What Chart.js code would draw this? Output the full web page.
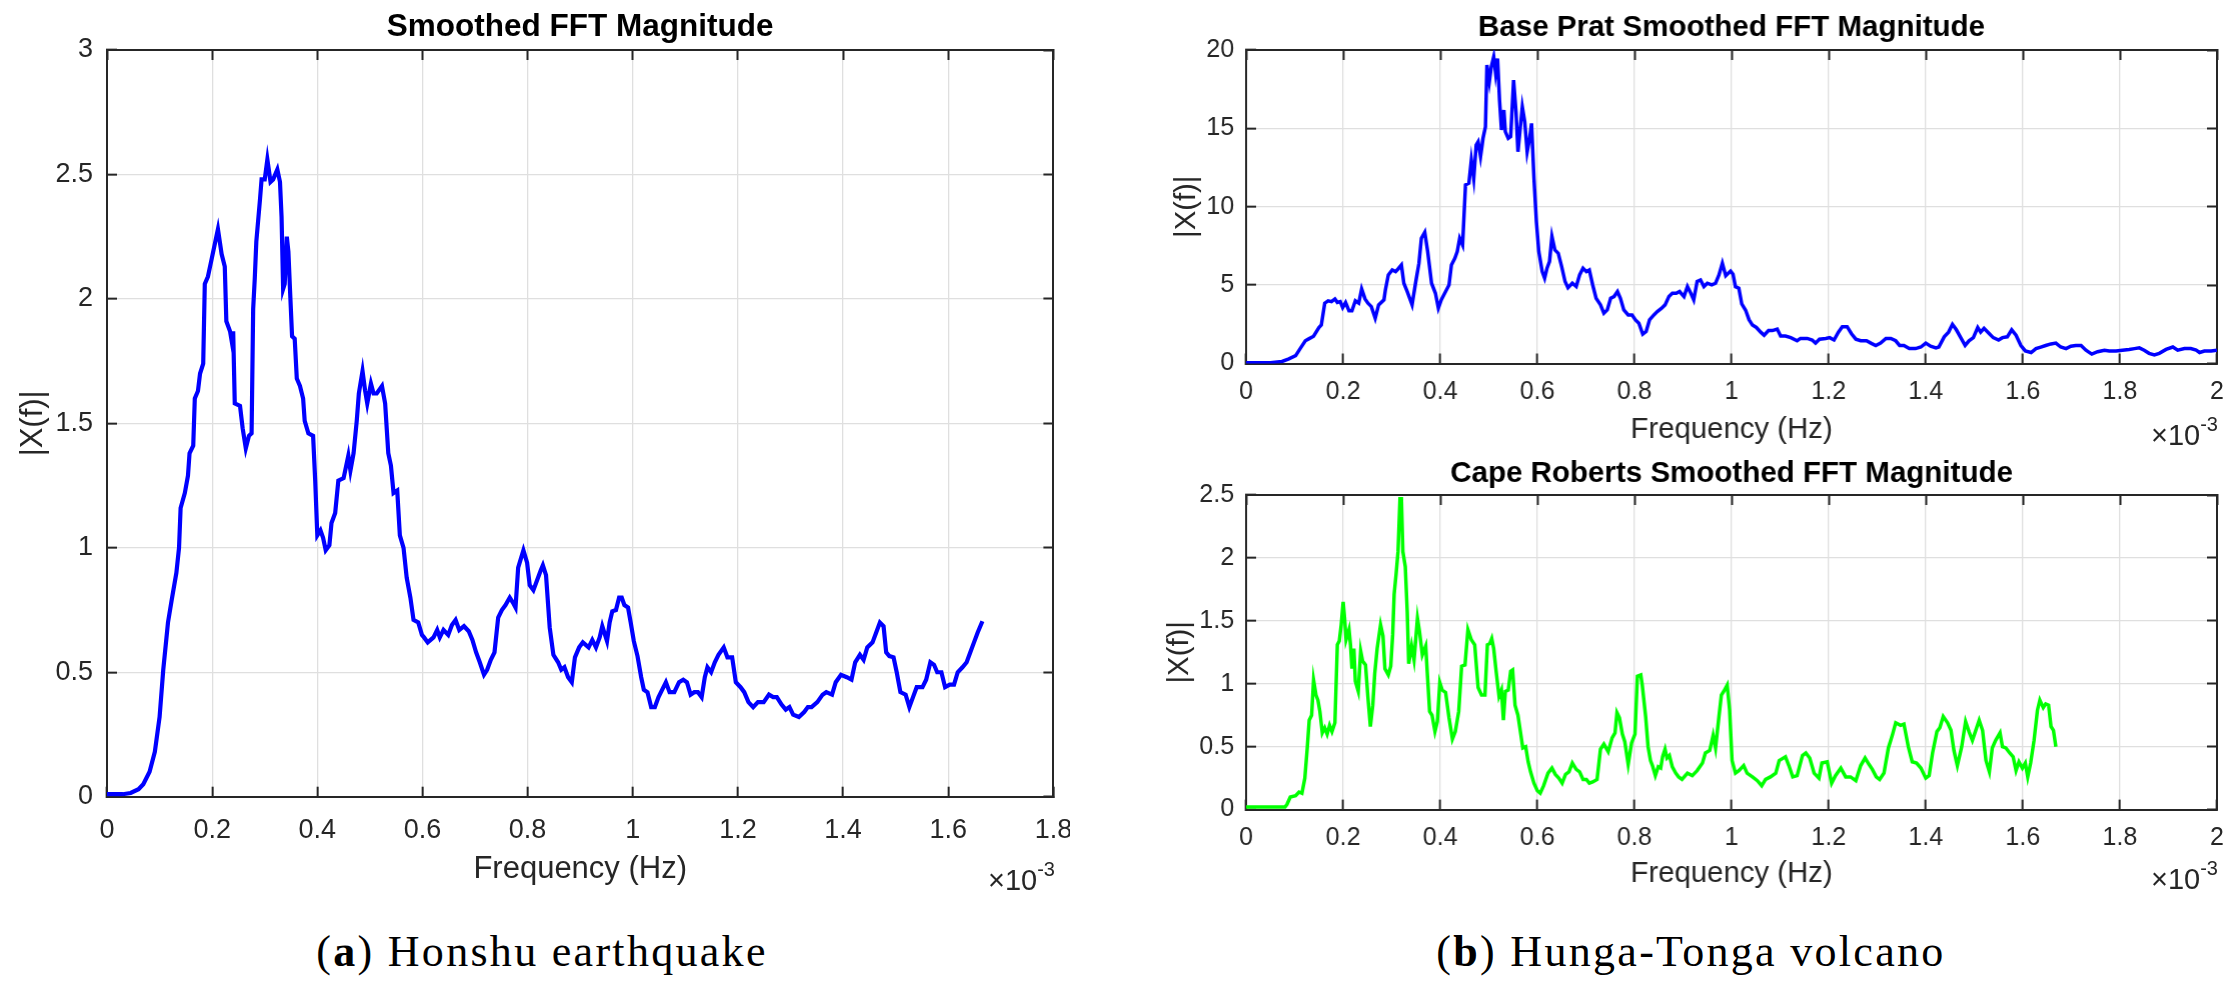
<!DOCTYPE html>
<html>
<head>
<meta charset="utf-8">
<title>Smoothed FFT Magnitude</title>
<script src="https://cdn.jsdelivr.net/npm/chart.js@4.4.1/dist/chart.umd.min.js"></script>
<style>
  html, body { margin: 0; padding: 0; background: #fff; }
  body { width: 2238px; height: 991px; position: relative; overflow: hidden; }
  canvas { position: absolute; }
  .exp {
    position: absolute; width: 120px; text-align: right; white-space: nowrap;
    font-family: "Liberation Sans", Arial, sans-serif; font-size: 29px; line-height: 29px; color: #262626;
  }
  .exp span { font-size: 20px; position: relative; top: -14px; }
  .cap {
    position: absolute; width: 700px; text-align: center; white-space: nowrap;
    font-family: "Liberation Serif", "Times New Roman", serif; font-size: 44px; line-height: 44px;
    letter-spacing: 2.3px; color: #000;
  }
</style>
</head>
<body>
<canvas id="honshuChart"></canvas>
<canvas id="pratChart"></canvas>
<canvas id="robertsChart"></canvas>

<div class="exp" style="left:935px; top:866px;">&times;10<span>-3</span></div>
<div class="exp" style="left:2098px; top:421px;">&times;10<span>-3</span></div>
<div class="exp" style="left:2098px; top:865px;">&times;10<span>-3</span></div>

<div class="cap" style="left:192px; top:930px;">(<b>a</b>) Honshu earthquake</div>
<div class="cap" style="left:1341px; top:930px;">(<b>b</b>) Hunga-Tonga volcano</div>

<script>
// ---------------------------------------------------------------
// Data (frequency in units of 1e-3 Hz, axis shows x10^-3)
// ---------------------------------------------------------------
const honshuFreq = [
  0, 0.03, 0.045, 0.06, 0.069, 0.081, 0.091, 0.1, 0.107, 0.116, 0.123, 0.132, 0.137, 0.14, 0.148,
  0.154, 0.157, 0.164, 0.167, 0.173, 0.177, 0.183, 0.186, 0.192, 0.199, 0.204, 0.211, 0.218, 0.224,
  0.227, 0.234, 0.238, 0.24, 0.243, 0.253, 0.258, 0.264, 0.27, 0.275, 0.278, 0.281, 0.284, 0.291,
  0.294, 0.3, 0.305, 0.311, 0.316, 0.324, 0.329, 0.332, 0.335, 0.338, 0.342, 0.345, 0.348, 0.352,
  0.357, 0.361, 0.367, 0.373, 0.376, 0.383, 0.392, 0.396, 0.4, 0.406, 0.411, 0.416, 0.423, 0.427,
  0.434, 0.44, 0.45, 0.459, 0.463, 0.469, 0.475, 0.479, 0.486, 0.491, 0.495, 0.502, 0.507, 0.513,
  0.523, 0.529, 0.535, 0.54, 0.545, 0.552, 0.557, 0.564, 0.57, 0.577, 0.583, 0.592, 0.599, 0.603,
  0.61, 0.621, 0.628, 0.633, 0.64, 0.649, 0.656, 0.663, 0.67, 0.679, 0.688, 0.695, 0.702, 0.709,
  0.717, 0.723, 0.73, 0.737, 0.744, 0.751, 0.758, 0.766, 0.772, 0.777, 0.782, 0.792, 0.799, 0.804,
  0.811, 0.818, 0.825, 0.829, 0.835, 0.842, 0.849, 0.858, 0.864, 0.87, 0.877, 0.884, 0.89, 0.898,
  0.905, 0.916, 0.923, 0.93, 0.937, 0.942, 0.951, 0.956, 0.961, 0.968, 0.974, 0.979, 0.984, 0.991,
  0.996, 1.002, 1.009, 1.016, 1.021, 1.028, 1.035, 1.042, 1.049, 1.056, 1.063, 1.07, 1.079, 1.088,
  1.096, 1.103, 1.11, 1.117, 1.124, 1.131, 1.137, 1.142, 1.149, 1.156, 1.163, 1.173, 1.18, 1.189,
  1.196, 1.205, 1.212, 1.22, 1.229, 1.238, 1.249, 1.259, 1.267, 1.274, 1.283, 1.291, 1.298, 1.305,
  1.316, 1.326, 1.333, 1.34, 1.351, 1.361, 1.368, 1.379, 1.386, 1.396, 1.407, 1.416, 1.423, 1.432,
  1.439, 1.446, 1.456, 1.463, 1.47, 1.477, 1.482, 1.488, 1.496, 1.502, 1.509, 1.519, 1.526, 1.533,
  1.54, 1.551, 1.558, 1.566, 1.573, 1.579, 1.587, 1.594, 1.603, 1.611, 1.618, 1.627, 1.635, 1.642,
  1.649, 1.656, 1.665
];
const honshuMag = [
  0.01, 0.01, 0.015, 0.03, 0.05, 0.1, 0.18, 0.32, 0.51, 0.7, 0.79, 0.9, 1.0, 1.16, 1.22,
  1.29, 1.38, 1.41, 1.6, 1.63, 1.7, 1.74, 2.06, 2.09, 2.16, 2.21, 2.28, 2.18, 2.13,
  1.91, 1.87, 1.82, 1.87, 1.58, 1.57, 1.48, 1.4, 1.45, 1.46, 1.96, 2.08, 2.23, 2.4,
  2.48, 2.48, 2.56, 2.47, 2.48, 2.52, 2.47, 2.33, 2.04, 2.06, 2.25, 2.19, 2.04, 1.85,
  1.84, 1.68, 1.65, 1.6, 1.51, 1.46, 1.45, 1.27, 1.05, 1.07, 1.04, 0.99, 1.01, 1.1,
  1.14, 1.27, 1.28, 1.37, 1.31, 1.38, 1.51, 1.62, 1.71, 1.63, 1.58, 1.66, 1.62, 1.62,
  1.65, 1.58, 1.38, 1.33, 1.22, 1.23, 1.05, 1.0, 0.88, 0.8, 0.71, 0.7, 0.65, 0.64,
  0.62, 0.64, 0.67, 0.64, 0.67, 0.65, 0.69, 0.71, 0.67, 0.685, 0.665, 0.63, 0.58, 0.54,
  0.49, 0.51, 0.55, 0.58, 0.72, 0.75, 0.77, 0.8, 0.78, 0.76, 0.92, 0.99, 0.94, 0.85,
  0.83, 0.87, 0.91, 0.93, 0.89, 0.68, 0.57, 0.54, 0.51, 0.52, 0.48, 0.46, 0.56, 0.6,
  0.62, 0.6, 0.63, 0.6, 0.64, 0.685, 0.625, 0.7, 0.745, 0.75, 0.8, 0.8, 0.77, 0.76,
  0.7, 0.625, 0.565, 0.48, 0.43, 0.42, 0.36, 0.36, 0.4, 0.43, 0.46, 0.42, 0.42, 0.46,
  0.47, 0.46, 0.41, 0.42, 0.42, 0.4, 0.48, 0.52, 0.5, 0.54, 0.57, 0.6, 0.56, 0.56,
  0.46, 0.44, 0.42, 0.38, 0.36, 0.38, 0.38, 0.41, 0.4, 0.4, 0.37, 0.35, 0.36, 0.33,
  0.32, 0.34, 0.36, 0.36, 0.38, 0.41, 0.42, 0.41, 0.46, 0.49, 0.48, 0.47, 0.54, 0.57,
  0.55, 0.6, 0.62, 0.66, 0.7, 0.685, 0.58, 0.565, 0.56, 0.5, 0.42, 0.41, 0.36, 0.4,
  0.44, 0.44, 0.47, 0.54, 0.53, 0.5, 0.5, 0.44, 0.45, 0.45, 0.5, 0.52, 0.54, 0.58,
  0.62, 0.66, 0.705
];

const pratFreq = [
  0, 0.05, 0.074, 0.088, 0.102, 0.112, 0.122, 0.129, 0.139, 0.15, 0.155, 0.162, 0.169, 0.176,
  0.183, 0.188, 0.194, 0.199, 0.205, 0.212, 0.218, 0.225, 0.232, 0.238, 0.245, 0.251, 0.258,
  0.266, 0.273, 0.284, 0.287, 0.293, 0.301, 0.308, 0.313, 0.32, 0.325, 0.332, 0.342, 0.349,
  0.356, 0.361, 0.368, 0.374, 0.382, 0.39, 0.396, 0.402, 0.411, 0.418, 0.423, 0.43, 0.435,
  0.44, 0.446, 0.452, 0.459, 0.464, 0.469, 0.474, 0.478, 0.483, 0.488, 0.493, 0.496, 0.501,
  0.505, 0.51, 0.514, 0.518, 0.522, 0.526, 0.531, 0.534, 0.54, 0.545, 0.551, 0.556, 0.56,
  0.569, 0.574, 0.579, 0.584, 0.588, 0.593, 0.598, 0.603, 0.61, 0.615, 0.62, 0.625, 0.63,
  0.636, 0.643, 0.65, 0.657, 0.663, 0.672, 0.68, 0.687, 0.694, 0.701, 0.707, 0.714, 0.721,
  0.73, 0.737, 0.744, 0.751, 0.758, 0.765, 0.771, 0.778, 0.787, 0.795, 0.802, 0.809, 0.817,
  0.824, 0.831, 0.84, 0.847, 0.856, 0.863, 0.871, 0.878, 0.886, 0.893, 0.902, 0.909, 0.916,
  0.922, 0.929, 0.936, 0.943, 0.95, 0.959, 0.967, 0.974, 0.981, 0.988, 0.998, 1.003, 1.008,
  1.015, 1.021, 1.029, 1.036, 1.043, 1.051, 1.06, 1.067, 1.076, 1.084, 1.094, 1.101, 1.111,
  1.122, 1.135, 1.142, 1.156, 1.166, 1.173, 1.181, 1.194, 1.202, 1.211, 1.22, 1.228, 1.238,
  1.247, 1.256, 1.266, 1.278, 1.287, 1.297, 1.307, 1.318, 1.328, 1.338, 1.346, 1.355, 1.366,
  1.379, 1.39, 1.4, 1.41, 1.421, 1.427, 1.438, 1.447, 1.455, 1.463, 1.472, 1.481, 1.489,
  1.498, 1.507, 1.513, 1.52, 1.531, 1.539, 1.55, 1.558, 1.568, 1.577, 1.586, 1.596, 1.605,
  1.617, 1.627, 1.637, 1.647, 1.658, 1.668, 1.678, 1.689, 1.699, 1.709, 1.72, 1.73, 1.742,
  1.754, 1.768, 1.778, 1.792, 1.805, 1.819, 1.83, 1.84, 1.85, 1.86, 1.871, 1.881, 1.895,
  1.909, 1.919, 1.933, 1.946, 1.957, 1.964, 1.974, 1.988, 2.0
];
const pratMag = [
  0.05, 0.05, 0.13, 0.3, 0.5, 0.98, 1.45, 1.57, 1.74, 2.29, 2.46, 3.85, 4.0, 3.95,
  4.12, 3.9, 3.95, 3.57, 3.89, 3.36, 3.36, 4.0, 3.85, 4.76, 4.12, 3.85, 3.63,
  2.89, 3.74, 4.06, 4.7, 5.65, 5.97, 5.86, 6.03, 6.29, 5.12, 4.59, 3.74, 5.12,
  6.4, 7.99, 8.37, 7.14, 5.12, 4.48, 3.53, 4.06, 4.59, 5.01, 6.29, 6.71, 7.14,
  7.99, 7.56, 11.39, 11.5, 12.98, 11.8, 13.94, 14.15, 13.2, 14.36, 15.1, 19.04, 17.98,
  18.93, 19.57, 18.5, 19.46, 16.81, 14.9, 16.17, 14.79, 14.36, 14.47, 18.08, 16.06, 13.51,
  16.38, 15.43, 13.51, 14.36, 15.32, 11.81, 9.05, 7.14, 5.86, 5.44, 6.08, 6.5, 8.1,
  7.25, 7.03, 6.18, 5.23, 4.84, 5.12, 4.91, 5.65, 6.08, 5.86, 5.97, 5.01, 4.16,
  3.74, 3.21, 3.42, 4.16, 4.27, 4.59, 4.16, 3.42, 3.1, 3.1, 2.78, 2.57, 1.87,
  2.04, 2.78, 3.1, 3.31, 3.53, 3.74, 4.27, 4.48, 4.48, 4.59, 4.27, 4.91, 4.48,
  4.06, 5.23, 5.33, 4.91, 5.12, 5.01, 5.12, 5.65, 6.4, 5.6, 5.9, 5.7, 4.9,
  4.8, 3.8, 3.4, 2.8, 2.45, 2.3, 2.0, 1.8, 2.1, 2.1, 2.2, 1.75, 1.75,
  1.65, 1.45, 1.6, 1.6, 1.5, 1.3, 1.55, 1.6, 1.65, 1.5, 2.0, 2.35, 2.35,
  1.9, 1.55, 1.45, 1.45, 1.3, 1.15, 1.3, 1.6, 1.6, 1.45, 1.15, 1.15, 0.95,
  0.95, 1.05, 1.3, 1.1, 1.0, 1.05, 1.7, 2.0, 2.5, 2.15, 1.65, 1.15, 1.45,
  1.65, 2.3, 2.0, 2.25, 1.9, 1.65, 1.5, 1.65, 1.7, 2.15, 1.8, 1.15, 0.8,
  0.7, 0.95, 1.05, 1.15, 1.25, 1.3, 1.05, 0.95, 1.1, 1.15, 1.15, 0.85, 0.6,
  0.75, 0.85, 0.8, 0.8, 0.85, 0.9, 0.95, 1.0, 0.85, 0.65, 0.55, 0.65, 0.9,
  1.05, 0.85, 0.95, 0.95, 0.85, 0.7, 0.8, 0.8, 0.85
];

const robertsFreq = [
  0, 0.08, 0.084, 0.091, 0.102, 0.109, 0.115, 0.121, 0.126, 0.13, 0.135, 0.139, 0.144, 0.148,
  0.152, 0.157, 0.162, 0.167, 0.172, 0.177, 0.183, 0.188, 0.192, 0.196, 0.2, 0.203, 0.206,
  0.212, 0.215, 0.218, 0.222, 0.225, 0.231, 0.236, 0.24, 0.246, 0.251, 0.256, 0.261, 0.265,
  0.27, 0.277, 0.282, 0.286, 0.293, 0.298, 0.302, 0.305, 0.309, 0.313, 0.317, 0.32, 0.323,
  0.328, 0.332, 0.335, 0.341, 0.346, 0.353, 0.357, 0.363, 0.37, 0.373, 0.378, 0.383, 0.389,
  0.394, 0.399, 0.404, 0.411, 0.418, 0.425, 0.431, 0.438, 0.444, 0.451, 0.457, 0.464, 0.471,
  0.478, 0.485, 0.492, 0.497, 0.502, 0.506, 0.51, 0.515, 0.521, 0.526, 0.53, 0.534, 0.54,
  0.545, 0.549, 0.554, 0.56, 0.565, 0.57, 0.576, 0.581, 0.586, 0.593, 0.6, 0.606, 0.613,
  0.622, 0.63, 0.637, 0.644, 0.651, 0.658, 0.665, 0.672, 0.68, 0.687, 0.694, 0.701, 0.707,
  0.714, 0.723, 0.73, 0.737, 0.746, 0.754, 0.76, 0.764, 0.769, 0.775, 0.78, 0.787, 0.794,
  0.801, 0.806, 0.813, 0.816, 0.823, 0.828, 0.833, 0.837, 0.843, 0.849, 0.854, 0.858, 0.863,
  0.867, 0.872, 0.878, 0.885, 0.891, 0.898, 0.909, 0.919, 0.929, 0.94, 0.946, 0.955, 0.962,
  0.967, 0.974, 0.979, 0.984, 0.991, 0.996, 1.001, 1.008, 1.015, 1.025, 1.032, 1.043, 1.053,
  1.062, 1.07, 1.08, 1.091, 1.098, 1.111, 1.118, 1.126, 1.135, 1.146, 1.153, 1.161, 1.17,
  1.18, 1.186, 1.197, 1.206, 1.214, 1.225, 1.235, 1.245, 1.256, 1.266, 1.275, 1.283, 1.29,
  1.298, 1.305, 1.314, 1.323, 1.331, 1.338, 1.348, 1.355, 1.364, 1.372, 1.381, 1.39, 1.4,
  1.407, 1.414, 1.423, 1.429, 1.436, 1.445, 1.452, 1.458, 1.465, 1.474, 1.482, 1.489, 1.496,
  1.503, 1.51, 1.517, 1.524, 1.531, 1.537, 1.544, 1.553, 1.558, 1.565, 1.573, 1.58, 1.586,
  1.592, 1.599, 1.605, 1.61, 1.616, 1.623, 1.63, 1.635, 1.642, 1.647, 1.653, 1.658, 1.663,
  1.668
];
const robertsMag = [
  0.02, 0.02, 0.04, 0.1, 0.11, 0.14, 0.13, 0.25, 0.49, 0.71, 0.75, 1.03, 0.91, 0.87,
  0.78, 0.61, 0.65, 0.6, 0.67, 0.62, 0.69, 1.31, 1.34, 1.47, 1.65, 1.52, 1.35,
  1.43, 1.31, 1.12, 1.28, 1.02, 0.94, 1.26, 1.18, 1.15, 0.89, 0.66, 0.83, 1.08,
  1.28, 1.47, 1.38, 1.12, 1.07, 1.14, 1.39, 1.71, 1.87, 2.05, 2.47, 2.47, 2.05,
  1.93, 1.57, 1.16, 1.3, 1.19, 1.52, 1.42, 1.23, 1.3, 1.1, 0.78, 0.75, 0.62,
  0.7, 1.01, 0.95, 0.93, 0.73, 0.56, 0.62, 0.78, 1.14, 1.15, 1.43, 1.35, 1.31,
  0.97, 0.91, 0.91, 1.31, 1.32, 1.36, 1.28, 1.1, 0.9, 0.95, 0.71, 0.94, 0.95,
  1.1, 1.11, 0.83, 0.75, 0.62, 0.49, 0.5, 0.38, 0.3, 0.21, 0.15, 0.13, 0.19,
  0.29, 0.33, 0.28, 0.25, 0.21, 0.28, 0.3, 0.37, 0.32, 0.3, 0.24, 0.24, 0.21,
  0.22, 0.24, 0.48, 0.52, 0.46, 0.57, 0.61, 0.77, 0.73, 0.6, 0.54, 0.36, 0.53,
  0.6, 1.06, 1.07, 0.99, 0.74, 0.5, 0.39, 0.35, 0.27, 0.34, 0.33, 0.42, 0.48,
  0.41, 0.43, 0.34, 0.29, 0.26, 0.24, 0.29, 0.27, 0.31, 0.37, 0.45, 0.47, 0.59,
  0.49, 0.74, 0.91, 0.94, 0.99, 0.79, 0.39, 0.29, 0.31, 0.35, 0.29, 0.26, 0.23,
  0.19, 0.24, 0.26, 0.29, 0.39, 0.42, 0.35, 0.26, 0.27, 0.43, 0.45, 0.41, 0.29,
  0.25, 0.37, 0.38, 0.21, 0.27, 0.33, 0.26, 0.26, 0.23, 0.35, 0.41, 0.36, 0.32,
  0.26, 0.24, 0.29, 0.49, 0.59, 0.69, 0.67, 0.68, 0.5, 0.38, 0.37, 0.33, 0.25,
  0.27, 0.45, 0.62, 0.65, 0.74, 0.69, 0.63, 0.47, 0.35, 0.5, 0.7, 0.62, 0.55,
  0.63, 0.71, 0.63, 0.39, 0.3, 0.49, 0.55, 0.61, 0.5, 0.49, 0.45, 0.42, 0.31,
  0.38, 0.33, 0.37, 0.26, 0.37, 0.55, 0.79, 0.87, 0.81, 0.84, 0.83, 0.66, 0.63,
  0.5
];

// Tick labels
const honshuXTicks = [0, 0.2, 0.4, 0.6, 0.8, 1, 1.2, 1.4, 1.6, 1.8];
const honshuYTicks = [0, 0.5, 1, 1.5, 2, 2.5, 3];
const tongaXTicks = [0, 0.2, 0.4, 0.6, 0.8, 1, 1.2, 1.4, 1.6, 1.8, 2];
const pratYTicks = [0, 5, 10, 15, 20];
const robertsYTicks = [0, 0.5, 1, 1.5, 2, 2.5];

// ---------------------------------------------------------------
// Look & feel (MATLAB-style axes)
// ---------------------------------------------------------------
const FONT = '"Liberation Sans", Arial, Helvetica, sans-serif';
const AXIS_COLOR = "#262626";
const GRID_COLOR = "#dfdfdf";

const fmt = (v) => String(+Number(v).toFixed(2));

function makePanel(id, cfg) {
  const el = document.getElementById(id);
  el.width = cfg.w;
  el.height = cfg.h;
  el.style.left = cfg.left + "px";
  el.style.top = cfg.top + "px";
  el.style.width = cfg.w + "px";
  el.style.height = cfg.h + "px";

  const xMin = cfg.xTicks[0], xMax = cfg.xTicks[cfg.xTicks.length - 1];
  const yMin = cfg.yTicks[0], yMax = cfg.yTicks[cfg.yTicks.length - 1];
  const setTicks = (list) => (scale) => { scale.ticks = list.map((v) => ({ value: v })); };
  // hide grid lines on the box edges, the border takes care of them
  const innerGrid = (lo, hi) => (ctx) =>
    ctx.tick && (ctx.tick.value === lo || ctx.tick.value === hi) ? "rgba(0,0,0,0)" : GRID_COLOR;
  const tickMarks = { tickColor: AXIS_COLOR, tickLength: -10, tickWidth: 2 };
  const border = { color: AXIS_COLOR, width: 2 };

  return new Chart(el, {
    type: "line",
    data: {
      datasets: [{
        data: cfg.freq.map((f, i) => ({ x: f, y: cfg.mag[i] })),
        borderColor: cfg.color,
        borderWidth: cfg.lineWidth,
        pointRadius: 0,
        tension: 0,
        fill: false,
      }],
    },
    options: {
      responsive: false,
      animation: false,
      devicePixelRatio: 1,
      layout: { padding: { left: 0, right: cfg.padRight, top: 0, bottom: 0 } },
      plugins: {
        legend: { display: false },
        tooltip: { enabled: false },
        title: {
          display: true,
          text: cfg.title,
          fullSize: false,
          color: "#000",
          font: { family: FONT, size: cfg.titleSize, weight: "bold", lineHeight: 1.2 },
          padding: { top: cfg.titlePadTop, bottom: cfg.titlePadBottom },
        },
      },
      scales: {
        x: {
          type: "linear",
          position: "bottom",
          min: xMin,
          max: xMax,
          afterBuildTicks: setTicks(cfg.xTicks),
          afterFit: (s) => { s.height = cfg.xAxisH; s.paddingLeft = 0; s.paddingRight = 0; },
          grid: { color: innerGrid(xMin, xMax), lineWidth: 1.3, ...tickMarks },
          border,
          ticks: {
            color: AXIS_COLOR, font: { family: FONT, size: cfg.tickSize },
            padding: cfg.xTickPad, maxRotation: 0, autoSkip: false, callback: fmt,
          },
          title: {
            display: true, text: "Frequency (Hz)", color: AXIS_COLOR,
            font: { family: FONT, size: cfg.labelSize, lineHeight: 1.2 },
            padding: { top: 0, bottom: cfg.xTitlePad },
          },
        },
        y: {
          type: "linear",
          position: "left",
          min: yMin,
          max: yMax,
          afterBuildTicks: setTicks(cfg.yTicks),
          afterFit: (s) => { s.width = cfg.yAxisW; s.paddingTop = 0; s.paddingBottom = 0; },
          grid: { color: innerGrid(yMin, yMax), lineWidth: 1.3, ...tickMarks },
          border,
          ticks: {
            color: AXIS_COLOR, font: { family: FONT, size: cfg.tickSize },
            padding: cfg.yTickPad, autoSkip: false, callback: fmt,
          },
          title: {
            display: true, text: "|X(f)|", color: AXIS_COLOR,
            font: { family: FONT, size: cfg.labelSize, lineHeight: 1.2 },
            padding: { top: cfg.yTitlePad, bottom: 0 },
          },
        },
        // mirrored axes: box outline + inner tick marks only
        xTop: {
          type: "linear",
          position: "top",
          min: xMin,
          max: xMax,
          afterBuildTicks: setTicks(cfg.xTicks),
          afterFit: (s) => { s.height = 0; s.paddingLeft = 0; s.paddingRight = 0; },
          grid: { drawOnChartArea: false, ...tickMarks },
          border,
          ticks: { display: false },
        },
        yRight: {
          type: "linear",
          position: "right",
          min: yMin,
          max: yMax,
          afterBuildTicks: setTicks(cfg.yTicks),
          afterFit: (s) => { s.width = 0; s.paddingTop = 0; s.paddingBottom = 0; },
          grid: { drawOnChartArea: false, ...tickMarks },
          border,
          ticks: { display: false },
        },
      },
    },
  });
}

// (a) Honshu earthquake
makePanel("honshuChart", {
  freq: honshuFreq, mag: honshuMag, xTicks: honshuXTicks, yTicks: honshuYTicks,
  title: "Smoothed FFT Magnitude", color: "#0000ff", lineWidth: 4.2,
  left: 0, top: 0, w: 1070, h: 910, padRight: 16.6,
  yAxisW: 107, xAxisH: 113.3,
  titleSize: 31.5, titlePadTop: 8.9, titlePadBottom: 3.3,
  tickSize: 27, labelSize: 31,
  xTickPad: 27.2, yTickPad: 24, xTitlePad: 21.9, yTitlePad: 14.4,
});

// (b) Hunga-Tonga volcano, Base Prat
makePanel("pratChart", {
  freq: pratFreq, mag: pratMag, xTicks: tongaXTicks, yTicks: pratYTicks,
  title: "Base Prat Smoothed FFT Magnitude", color: "#0000ff", lineWidth: 3.5,
  left: 1146.4, top: 0, w: 1078.6, h: 460, padRight: 8,
  yAxisW: 100, xAxisH: 96.5,
  titleSize: 29.5, titlePadTop: 10.3, titlePadBottom: 4.3,
  tickSize: 25, labelSize: 29.3,
  xTickPad: 23.5, yTickPad: 21.9, xTitlePad: 12.4, yTitlePad: 23.0,
});

// (b) Hunga-Tonga volcano, Cape Roberts
makePanel("robertsChart", {
  freq: robertsFreq, mag: robertsMag, xTicks: tongaXTicks, yTicks: robertsYTicks,
  title: "Cape Roberts Smoothed FFT Magnitude", color: "#00ff00", lineWidth: 3.5,
  left: 1146.4, top: 440, w: 1078.6, h: 460, padRight: 8,
  yAxisW: 100, xAxisH: 90.4,
  titleSize: 29.5, titlePadTop: 16.3, titlePadBottom: 3.3,
  tickSize: 25, labelSize: 29.3,
  xTickPad: 23.4, yTickPad: 21.9, xTitlePad: 8.4, yTitlePad: 16.0,
});
</script>
</body>
</html>
